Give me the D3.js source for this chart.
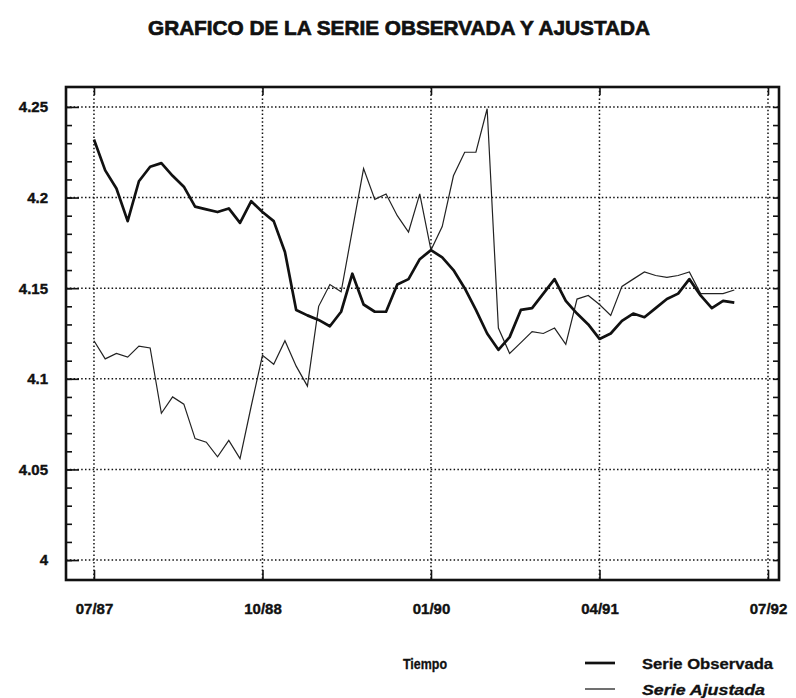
<!DOCTYPE html>
<html>
<head>
<meta charset="utf-8">
<script src="https://cdn.jsdelivr.net/npm/d3@7"></script>
<style>
  body { margin: 0; background: #fff; }
  text { font-family: "Liberation Sans", Arial, sans-serif; font-weight: bold; fill: #111; }
</style>
</head>
<body>
<svg id="chart"></svg>
<script>
// monthly values, 07/87 .. 04/92
const observada = [4.232, 4.215, 4.205, 4.187, 4.209, 4.217, 4.219, 4.212, 4.206, 4.195,
                   4.1935, 4.192, 4.194, 4.186, 4.198, 4.192, 4.187, 4.170, 4.138, 4.135,
                   4.1325, 4.129, 4.137, 4.158, 4.141, 4.137, 4.137, 4.152, 4.155, 4.166,
                   4.171, 4.167, 4.160, 4.150, 4.138, 4.125, 4.116, 4.123, 4.138, 4.139,
                   4.147, 4.155, 4.143, 4.136, 4.130, 4.122, 4.125, 4.132, 4.136, 4.134,
                   4.139, 4.144, 4.147, 4.155, 4.146, 4.139, 4.143, 4.142];
const ajustada = [4.121, 4.111, 4.114, 4.112, 4.118, 4.117, 4.081, 4.090, 4.086, 4.067,
                  4.065, 4.057, 4.066, 4.056, 4.085, 4.113, 4.108, 4.121, 4.107, 4.096,
                  4.140, 4.152, 4.148, 4.182, 4.216, 4.199, 4.202, 4.190, 4.181, 4.202,
                  4.171, 4.184, 4.212, 4.225, 4.225, 4.249, 4.128, 4.114, 4.120, 4.126,
                  4.125, 4.128, 4.119, 4.144, 4.146, 4.141, 4.135, 4.151, 4.155, 4.159,
                  4.157, 4.156, 4.157, 4.159, 4.147, 4.147, 4.147, 4.149];

const xTickMonths = [0, 15, 30, 45, 60];
const xTickLabels = ["07/87", "10/88", "01/90", "04/91", "07/92"];
const yTicks = [4, 4.05, 4.1, 4.15, 4.2, 4.25];

const width = 796, height = 698;
const frame = { left: 66, right: 779, top: 87, bottom: 580 };

const svg = d3.select('#chart')
    .attr("width", width)
    .attr("height", height);

svg.append("rect").attr("width", width).attr("height", height).attr("fill", "#fff");

const x = d3.scaleLinear().domain([-2.49, 60.98]).range([frame.left, frame.right]);
const y = d3.scaleLinear().domain([3.989, 4.261]).range([frame.bottom, frame.top]);

const yMinor = d3.range(400, 426).map(d => d / 100);

// title (heavy, like the scanned original)
svg.append("text")
  .attr("x", 399)
  .attr("y", 35)
  .attr("text-anchor", "middle")
  .attr("font-size", 21)
  .attr("stroke", "#111")
  .attr("stroke-width", 0.7)
  .attr("textLength", 502)
  .attr("lengthAdjust", "spacingAndGlyphs")
  .text("GRAFICO DE LA SERIE OBSERVADA Y AJUSTADA");

// dotted grid
const grid = svg.append("g")
  .attr("stroke", "#111")
  .attr("stroke-width", 1.5)
  .attr("stroke-dasharray", "1.5,2.3");

grid.selectAll(".hgrid")
  .data(yTicks)
  .enter().append("line")
  .attr("x1", frame.left).attr("x2", frame.right)
  .attr("y1", d => y(d)).attr("y2", d => y(d));

grid.selectAll(".vgrid")
  .data(xTickMonths)
  .enter().append("line")
  .attr("y1", frame.top).attr("y2", frame.bottom)
  .attr("x1", d => x(d)).attr("x2", d => x(d));

// axes
const yMinorAxis = d3.axisLeft(y).tickValues(yMinor).tickSize(-6).tickFormat("");
const yMajorAxis = d3.axisLeft(y).tickValues(yTicks).tickSize(-13).tickPadding(18)
  .tickFormat(d => String(d));
const yRightAxis = d3.axisRight(y).tickValues(yMinor).tickSize(-6).tickFormat("");
const xAxis = d3.axisBottom(x).tickValues(xTickMonths).tickSize(-10).tickPadding(23)
  .tickFormat((d, i) => xTickLabels[i]);
const xTopAxis = d3.axisTop(x).tickValues(xTickMonths).tickSize(-8).tickFormat("");

function styleAxis(g) {
  g.select(".domain").remove();
  g.selectAll(".tick line").attr("stroke", "#111").attr("stroke-width", 1.6);
  g.selectAll("text")
    .attr("font-family", '"Liberation Sans", Arial, sans-serif')
    .attr("font-weight", "bold")
    .attr("fill", "#111")
    .attr("stroke", "#111")
    .attr("stroke-width", 0.4);
}

svg.append("g").attr("transform", `translate(${frame.left},0)`).call(yMinorAxis).call(styleAxis);
svg.append("g").attr("transform", `translate(${frame.left},0)`).call(yMajorAxis).call(styleAxis)
  .selectAll("text").attr("font-size", 15);
svg.append("g").attr("transform", `translate(${frame.right},0)`).call(yRightAxis).call(styleAxis);
svg.append("g").attr("transform", `translate(0,${frame.bottom})`).call(xAxis).call(styleAxis)
  .selectAll("text").attr("font-size", 15);
svg.append("g").attr("transform", `translate(0,${frame.top})`).call(xTopAxis).call(styleAxis);

// frame
svg.append("rect")
  .attr("x", frame.left).attr("y", frame.top)
  .attr("width", frame.right - frame.left)
  .attr("height", frame.bottom - frame.top)
  .attr("fill", "none")
  .attr("stroke", "#111")
  .attr("stroke-width", 2.6);

// series
const line = d3.line()
  .x((d, i) => x(i))
  .y(d => y(d));

svg.append("path")
  .datum(ajustada)
  .attr("fill", "none")
  .attr("stroke", "#222")
  .attr("stroke-width", 1.2)
  .attr("d", line);

svg.append("path")
  .datum(observada)
  .attr("fill", "none")
  .attr("stroke", "#111")
  .attr("stroke-width", 2.7)
  .attr("stroke-linejoin", "round")
  .attr("d", line);

// legend
svg.append("text").attr("x", 403).attr("y", 669).attr("font-size", 14)
  .attr("stroke", "#111").attr("stroke-width", 0.3)
  .attr("textLength", 44).attr("lengthAdjust", "spacingAndGlyphs").text("Tiempo");

const legend = [
  { label: "Serie Observada", w: 2.7, italic: false, len: 131 },
  { label: "Serie Ajustada", w: 1.2, italic: true, len: 123 }
];

const lg = svg.selectAll(".legend")
  .data(legend)
  .enter().append("g")
  .attr("transform", (d, i) => `translate(0,${663 + i * 26})`);

lg.append("line")
  .attr("x1", 585).attr("x2", 615)
  .attr("stroke", "#111")
  .attr("stroke-width", d => d.w);

lg.append("text")
  .attr("x", 642).attr("y", 6)
  .attr("font-size", 14)
  .attr("stroke", "#111")
  .attr("stroke-width", 0.3)
  .attr("font-style", d => d.italic ? "italic" : "normal")
  .attr("textLength", d => d.len)
  .attr("lengthAdjust", "spacingAndGlyphs")
  .text(d => d.label);
</script>
</body>
</html>
